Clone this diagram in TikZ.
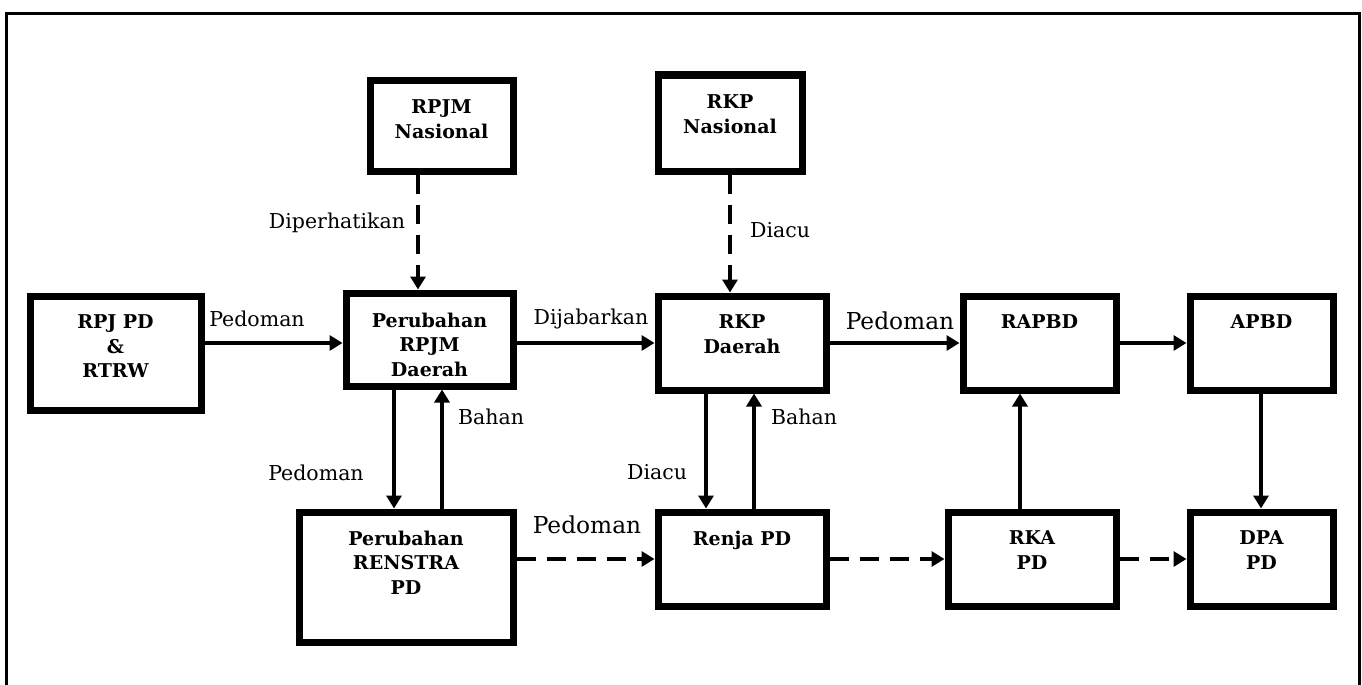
\documentclass[tikz,border=0pt]{standalone}
\usepackage{fontspec}
\setmainfont{DejaVu Serif}
\usetikzlibrary{arrows.meta}
\begin{document}
\begin{tikzpicture}[x=1pt,y=-1pt,
  box/.style={draw, line width=7pt, inner sep=0pt},
  btxt/.style={font=\bfseries\fontsize{19}{24.5}\selectfont, align=center, anchor=north, inner sep=0pt},
  lbl/.style={font=\fontsize{20.5}{24}\selectfont, inner sep=0pt},
  lblbig/.style={font=\fontsize{23.3}{27}\selectfont, inner sep=0pt},
  arr/.style={line width=3.3pt, -{Triangle[length=13pt,width=15pt]}},
  darr/.style={line width=4.5pt, dash pattern=on 19pt off 11pt, -{Triangle[length=13pt,width=15pt]}},
]
\useasboundingbox (0,0) rectangle (1362,685);
\clip (0,0) rectangle (1362,685);
\draw[line width=3pt] (6.5,14) rectangle (1359,720);

% boxes
\node[box, minimum width=143pt, minimum height=91pt] (rpjmn) at (441.5,125.5) {};
\node[box, minimum width=144pt, minimum height=96pt] (rkpn) at (730,123) {};
\node[box, minimum width=171pt, minimum height=114pt] (rpjpd) at (115.5,353) {};
\node[box, minimum width=167pt, minimum height=93pt] (rpjmd) at (429.5,339.5) {};
\node[box, minimum width=168pt, minimum height=94pt] (rkpd) at (742,343) {};
\node[box, minimum width=153pt, minimum height=94pt] (rapbd) at (1039.5,343) {};
\node[box, minimum width=143pt, minimum height=94pt] (apbd) at (1261.5,343) {};
\node[box, minimum width=214pt, minimum height=130pt] (renstra) at (406,577) {};
\node[box, minimum width=168pt, minimum height=94pt] (renja) at (742,559) {};
\node[box, minimum width=168pt, minimum height=94pt] (rka) at (1032,559) {};
\node[box, minimum width=143pt, minimum height=94pt] (dpa) at (1261.5,559) {};

% box texts
\node[btxt] (rpjmn-t) at ([yshift=-23pt]rpjmn.north) {RPJM\\Nasional};
\node[btxt] (rkpn-t) at ([yshift=-23pt]rkpn.north) {RKP\\Nasional};
\node[btxt] (rpjpd-t) at ([yshift=-22pt]rpjpd.north) {RPJ PD\\\&\\RTRW};
\node[btxt] (rpjmd-t) at ([yshift=-23pt]rpjmd.north) {Perubahan\\RPJM\\Daerah};
\node[btxt] (rkpd-t) at ([yshift=-22pt]rkpd.north) {RKP\\Daerah};
\node[btxt] (rapbd-t) at ([yshift=-22pt]rapbd.north) {RAPBD};
\node[btxt] (apbd-t) at ([yshift=-22pt]apbd.north) {APBD};
\node[btxt] (renstra-t) at ([yshift=-22pt]renstra.north) {Perubahan\\RENSTRA\\PD};
\node[btxt] (renja-t) at ([yshift=-22pt]renja.north) {Renja PD};
\node[btxt] (rka-t) at ([yshift=-22pt]rka.north) {RKA\\PD};
\node[btxt] (dpa-t) at ([yshift=-22pt]dpa.north) {DPA\\PD};

% connectors
\draw[arr] (rpjpd.east |- 0,343) -- (rpjmd.west |- 0,343);
\draw[arr] (rpjmd.east |- 0,343) -- (rkpd.west |- 0,343);
\draw[arr] (rkpd.east |- 0,343) -- (rapbd.west |- 0,343);
\draw[arr] (rapbd.east |- 0,343) -- (apbd.west |- 0,343);
\draw[darr] (rpjmn.south -| 418,0) -- (rpjmd.north -| 418,0);
\draw[darr] (rkpn.south) -- (rkpd.north -| rkpn.south);
\draw[arr] (rpjmd.south -| 394,0) -- (renstra.north -| 394,0);
\draw[arr] (renstra.north -| 442,0) -- (rpjmd.south -| 442,0);
\draw[arr] (rkpd.south -| 706,0) -- (renja.north -| 706,0);
\draw[arr] (renja.north -| 754,0) -- (rkpd.south -| 754,0);
\draw[arr] (rka.north -| 1020,0) -- (rapbd.south -| 1020,0);
\draw[arr] (apbd.south -| 1261,0) -- (dpa.north -| 1261,0);
\draw[darr] (renstra.east |- 0,559) -- (renja.west |- 0,559);
\draw[darr] (renja.east |- 0,559) -- (rka.west |- 0,559);
\draw[darr] (rka.east |- 0,559) -- (dpa.west |- 0,559);

% labels
\node[lbl] (l-ped1) at (257,319) {Pedoman};
\node[lbl] (l-dij) at (591,319) {Dijabarkan};
\node[lblbig] (l-ped2) at (900,321) {Pedoman};
\node[lbl] (l-diper) at (337,223) {Diperhatikan};
\node[lbl] (l-diacu1) at (780,230) {Diacu};
\node[lbl] (l-ped3) at (316,473) {Pedoman};
\node[lbl] (l-bahan1) at (491,417) {Bahan};
\node[lbl] (l-diacu2) at (657,472) {Diacu};
\node[lbl] (l-bahan2) at (804,417) {Bahan};
\node[lblbig] (l-ped4) at (587,525) {Pedoman};
\end{tikzpicture}
\end{document}
